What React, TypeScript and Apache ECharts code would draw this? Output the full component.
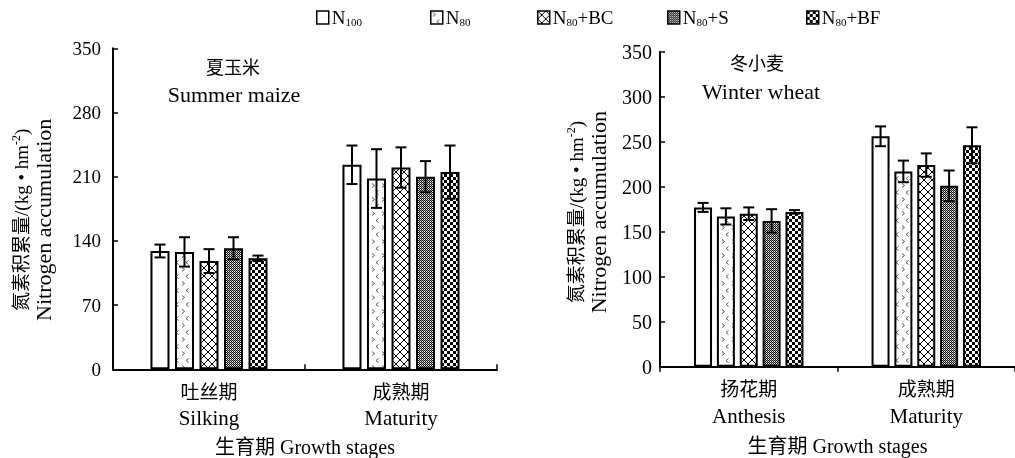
import React, { useEffect, useRef } from 'react';
import * as echarts from 'echarts';

const treatments = ['N100', 'N80', 'N80+BC', 'N80+S', 'N80+BF'];
const maizeStages = ['吐丝期\nSilking', '成熟期\nMaturity'];
const wheatStages = ['扬花期\nAnthesis', '成熟期\nMaturity'];

const maizeSilking = [129, 128, 118, 132, 121];
const maizeSilkingErr = [7, 16, 13, 12, 3];
const maizeMaturity = [223, 208, 220, 210, 215];
const maizeMaturityErr = [21, 32, 22, 17, 29];

const wheatAnthesis = [177, 167, 170, 162, 172];
const wheatAnthesisErr = [5, 9, 7, 13, 2];
const wheatMaturity = [256, 217, 224, 201, 246];
const wheatMaturityErr = [11, 12, 13, 17, 20];

const maizeTicks = { min: 0, max: 350, interval: 70 };
const wheatTicks = { min: 0, max: 350, interval: 50 };

const FONT = "'Liberation Serif', 'Times New Roman', 'Noto Sans CJK SC', serif";
const legendLeft = [316, 430, 537, 667, 806];

function tile(w: number, h: number, draw: (ctx: CanvasRenderingContext2D) => void) {
  const c = document.createElement('canvas');
  c.width = w;
  c.height = h;
  const ctx = c.getContext('2d')!;
  ctx.fillStyle = '#fff';
  ctx.fillRect(0, 0, w, h);
  draw(ctx);
  return { image: c.toDataURL(), repeat: 'repeat', imageWidth: w, imageHeight: h } as any;
}

function makePatterns() {
  const plain = '#ffffff';
  const chevron = tile(10, 14, (ctx) => {
    ctx.strokeStyle = '#555';
    ctx.lineWidth = 1;
    ctx.beginPath();
    ctx.moveTo(2, 1.5);
    ctx.lineTo(4.5, 3.5);
    ctx.lineTo(2, 5.5);
    ctx.moveTo(8.5, 8.5);
    ctx.lineTo(6, 10.5);
    ctx.lineTo(8.5, 12.5);
    ctx.stroke();
  });
  const cross = tile(8, 8, (ctx) => {
    ctx.strokeStyle = '#000';
    ctx.lineWidth = 1;
    ctx.beginPath();
    ctx.moveTo(0, 0);
    ctx.lineTo(8, 8);
    ctx.moveTo(8, 0);
    ctx.lineTo(0, 8);
    ctx.stroke();
  });
  const stipple = tile(2, 2, (ctx) => {
    ctx.fillStyle = '#111';
    ctx.fillRect(0, 0, 1, 1);
    ctx.fillRect(1, 1, 1, 1);
    ctx.fillStyle = '#999';
    ctx.fillRect(1, 0, 1, 1);
  });
  const checker = tile(6, 6, (ctx) => {
    ctx.fillStyle = '#000';
    ctx.fillRect(0, 0, 3, 3);
    ctx.fillRect(3, 3, 3, 3);
  });
  return [plain, chevron, cross, stipple, checker];
}

const catRich = {
  cn: { fontFamily: FONT, fontSize: 19, color: '#000', lineHeight: 26 },
  en: { fontFamily: FONT, fontSize: 21, color: '#000', lineHeight: 26 },
};
const catFormatter = (v: string) => {
  const [cn, en] = v.split('\n');
  return '{cn|' + cn + '}\n{en|' + en + '}';
};

export default function App() {
  const ref = useRef<HTMLDivElement>(null);

  useEffect(() => {
    if (!ref.current) return;
    const chart = echarts.init(ref.current, undefined, { renderer: 'svg' });
    const patterns = makePatterns();

    const maizeBarW = 19;
    const maizeGap = 0.29;
    const wheatBarW = 18;
    const wheatGap = 0.27;

    const barSeries: any[] = [];
    treatments.forEach((t, i) => {
      barSeries.push({
        type: 'bar',
        name: t,
        xAxisIndex: 0,
        yAxisIndex: 0,
        data: [maizeSilking[i], maizeMaturity[i]],
        barWidth: maizeBarW,
        barGap: maizeGap * 100 + '%',
        itemStyle: { color: patterns[i], borderColor: '#000', borderWidth: 2 },
        z: 2,
      });
    });
    treatments.forEach((t, i) => {
      barSeries.push({
        type: 'bar',
        name: t,
        xAxisIndex: 1,
        yAxisIndex: 1,
        data: [wheatAnthesis[i], wheatMaturity[i]],
        barWidth: wheatBarW,
        barGap: wheatGap * 100 + '%',
        itemStyle: { color: patterns[i], borderColor: '#000', borderWidth: 2 },
        z: 2,
      });
    });

    const errData = (s1: number[], e1: number[], s2: number[], e2: number[]) => {
      const out: number[][] = [];
      treatments.forEach((_, i) => {
        out.push([0, s1[i], e1[i], i]);
        out.push([1, s2[i], e2[i], i]);
      });
      return out;
    };

    const errRender = (step: number) => (params: any, api: any) => {
      const cat = api.value(0);
      const mean = api.value(1);
      const err = api.value(2);
      const t = api.value(3);
      const top = api.coord([cat, mean + err]);
      const bot = api.coord([cat, mean - err]);
      const x = top[0] + (t - 2) * step;
      const hw = 5.5;
      const style = { stroke: '#000', lineWidth: 2 };
      return {
        type: 'group',
        children: [
          { type: 'line', shape: { x1: x, y1: top[1], x2: x, y2: bot[1] }, style },
          { type: 'line', shape: { x1: x - hw, y1: top[1], x2: x + hw, y2: top[1] }, style },
          { type: 'line', shape: { x1: x - hw, y1: bot[1], x2: x + hw, y2: bot[1] }, style },
        ],
      };
    };

    const axisLineStyle = { color: '#000', width: 2 };
    const yNameRich = {
      cn: { fontFamily: FONT, fontSize: 19, color: '#000', lineHeight: 22 },
      sup: { fontFamily: FONT, fontSize: 12, color: '#000', verticalAlign: 'top', lineHeight: 12 },
      en: { fontFamily: FONT, fontSize: 22, color: '#000', lineHeight: 22 },
    };
    const yName = '{cn|氮素积累量/(kg • hm}{sup|-2}{cn|)}\n{en|Nitrogen accumulation}';

    const legendRich = {
      n: { fontFamily: FONT, fontSize: 19, color: '#000', lineHeight: 20 },
      s: { fontFamily: FONT, fontSize: 11, color: '#000', lineHeight: 10, verticalAlign: 'bottom' },
    };

    const xNameStyle = { color: '#000', fontSize: 20, lineHeight: 20, fontFamily: FONT };

    const option: any = {
      animation: false,
      backgroundColor: '#fff',
      textStyle: { fontFamily: FONT, color: '#000' },
      legend: treatments.map((t, i) => ({
        data: [t],
        left: legendLeft[i],
        top: 8,
        padding: 0,
        icon: 'rect',
        itemWidth: 12,
        itemHeight: 13,
        itemGap: 4,
        selectedMode: false,
        itemStyle: { borderColor: '#000', borderWidth: 1.5 },
        formatter: (name: string) => {
          const m = name.match(/^N(\d+)(.*)$/);
          if (!m) return name;
          return '{n|N}{s|' + m[1] + '}' + (m[2] ? '{n|' + m[2] + '}' : '');
        },
        textStyle: { rich: legendRich, padding: [0, 0, 0, -2] },
      })),
      grid: [
        { left: 113, top: 48.3, width: 384, height: 321, containLabel: false, outerBoundsMode: 'none' },
        { left: 660, top: 51.7, width: 355, height: 315, containLabel: false, outerBoundsMode: 'none' },
      ],
      xAxis: [
        {
          gridIndex: 0,
          type: 'category',
          data: maizeStages,
          axisLine: { lineStyle: axisLineStyle },
          axisTick: { show: true, inside: true, length: 5, lineStyle: { color: '#000', width: 1.5 } },
          axisLabel: { color: '#000', margin: 10, formatter: catFormatter, rich: catRich },
          name: '生育期 Growth stages',
          nameLocation: 'middle',
          nameGap: 68,
          nameTextStyle: xNameStyle,
        },
        {
          gridIndex: 1,
          type: 'category',
          data: wheatStages,
          axisLine: { lineStyle: axisLineStyle },
          axisTick: { show: true, inside: false, length: 5, lineStyle: { color: '#000', width: 1.5 } },
          axisLabel: { color: '#000', margin: 10, formatter: catFormatter, rich: catRich },
          name: '生育期 Growth stages',
          nameLocation: 'middle',
          nameGap: 69,
          nameTextStyle: xNameStyle,
        },
      ],
      yAxis: [
        {
          gridIndex: 0,
          type: 'value',
          min: maizeTicks.min,
          max: maizeTicks.max,
          interval: maizeTicks.interval,
          axisLine: { show: true, lineStyle: axisLineStyle },
          axisTick: { show: true, inside: true, length: 5, lineStyle: { color: '#000', width: 1.5 } },
          axisLabel: { color: '#000', fontSize: 19, margin: 12, fontFamily: FONT },
          splitLine: { show: false },
          name: yName,
          nameLocation: 'middle',
          nameRotate: 90,
          nameGap: 59,
          nameTextStyle: { color: '#000', rich: yNameRich, padding: [0, 22, 0, 0] },
        },
        {
          gridIndex: 1,
          type: 'value',
          min: wheatTicks.min,
          max: wheatTicks.max,
          interval: wheatTicks.interval,
          axisLine: { show: true, lineStyle: axisLineStyle },
          axisTick: { show: true, inside: true, length: 5, lineStyle: { color: '#000', width: 1.5 } },
          axisLabel: { color: '#000', fontSize: 20, margin: 8, fontFamily: FONT },
          splitLine: { show: false },
          name: yName,
          nameLocation: 'middle',
          nameRotate: 90,
          nameGap: 51,
          nameTextStyle: { color: '#000', rich: yNameRich, padding: [0, 6, 0, 0] },
        },
      ],
      graphic: [
        { type: 'text', x: 233, y: 68, style: { text: '夏玉米', fontFamily: FONT, fontSize: 18, fill: '#000', align: 'center', verticalAlign: 'middle' } },
        { type: 'text', x: 234, y: 94, style: { text: 'Summer maize', fontFamily: FONT, fontSize: 22, fill: '#000', align: 'center', verticalAlign: 'middle' } },
        { type: 'text', x: 757, y: 64, style: { text: '冬小麦', fontFamily: FONT, fontSize: 18, fill: '#000', align: 'center', verticalAlign: 'middle' } },
        { type: 'text', x: 761, y: 91, style: { text: 'Winter wheat', fontFamily: FONT, fontSize: 22, fill: '#000', align: 'center', verticalAlign: 'middle' } },
      ],
      series: [
        ...barSeries,
        {
          type: 'custom',
          name: 'err-maize',
          xAxisIndex: 0,
          yAxisIndex: 0,
          z: 5,
          data: errData(maizeSilking, maizeSilkingErr, maizeMaturity, maizeMaturityErr),
          renderItem: errRender(maizeBarW * (1 + maizeGap)),
        },
        {
          type: 'custom',
          name: 'err-wheat',
          xAxisIndex: 1,
          yAxisIndex: 1,
          z: 5,
          data: errData(wheatAnthesis, wheatAnthesisErr, wheatMaturity, wheatMaturityErr),
          renderItem: errRender(wheatBarW * (1 + wheatGap)),
        },
      ],
    };

    chart.setOption(option);
    return () => chart.dispose();
  }, []);

  return (
    <div
      ref={ref}
      style={{
        position: 'absolute',
        left: 0,
        top: 0,
        width: 1015,
        height: 458,
        background: '#fff',
        filter: 'grayscale(1)',
      }}
    />
  );
}
